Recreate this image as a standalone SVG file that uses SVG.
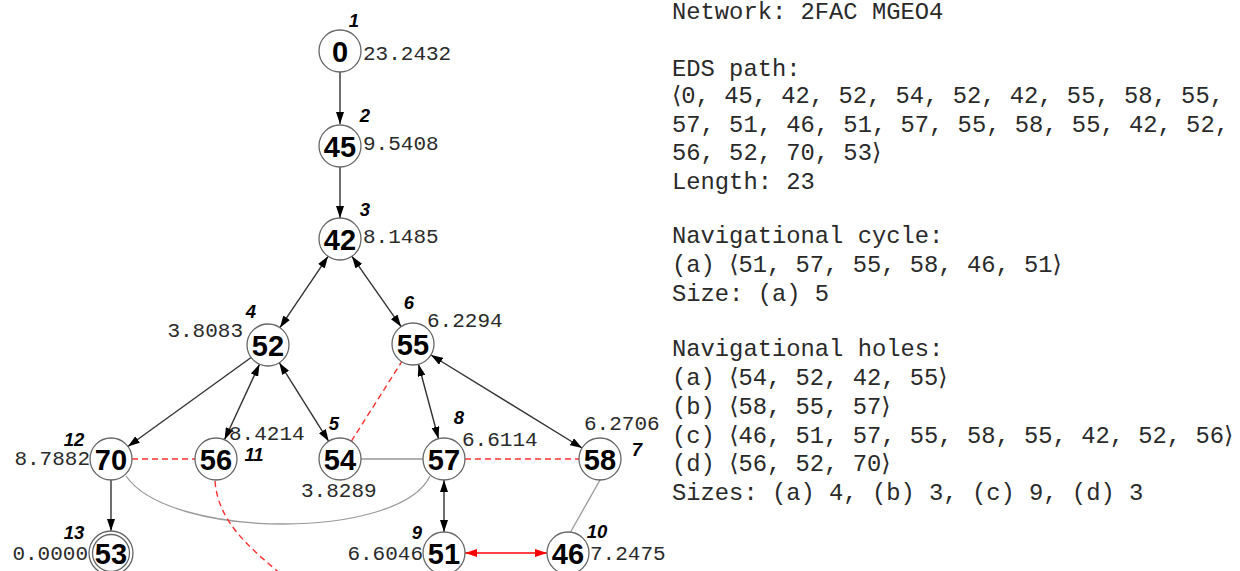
<svg xmlns="http://www.w3.org/2000/svg" width="1240" height="571" viewBox="0 0 1240 571">
<style>
.node circle{fill:#fff;stroke:#666;stroke-width:1.3}
.lbl{font-family:"Liberation Sans",Arial,sans-serif;font-weight:bold;font-size:29px;text-anchor:middle;fill:#000}
.ord{font-family:"Liberation Sans",Arial,sans-serif;font-weight:bold;font-style:italic;font-size:18.5px;text-anchor:middle;fill:#000}
.val{font-family:"Liberation Mono","Courier New",monospace;font-size:21px;fill:#2a2a2a}
.txt{font-family:"Liberation Mono","Courier New",monospace;font-size:23.8px;fill:#2a2a2a}
.br{font-family:"DejaVu Sans",sans-serif}
.arr{stroke:#333;stroke-width:1.4;fill:none}
.gray{stroke:#999;stroke-width:1.3;fill:none}
.red{stroke:#ff3030;stroke-width:1.4;fill:none;stroke-dasharray:6,4}
.redarr{stroke:#ff0000;stroke-width:1.5;fill:none}
</style>
<defs>
<marker id="ah" viewBox="0 0 12 8" refX="12" refY="4" markerWidth="12" markerHeight="8" markerUnits="userSpaceOnUse" orient="auto-start-reverse"><path d="M0,0 L12,4 L0,8 Z" fill="#000"/></marker>
<marker id="ahr" viewBox="0 0 12 8" refX="12" refY="4" markerWidth="12" markerHeight="8" markerUnits="userSpaceOnUse" orient="auto-start-reverse"><path d="M0,0 L12,4 L0,8 Z" fill="#ff0000"/></marker>
</defs>
<g id="connectors">
<line class="arr" x1="340" y1="72" x2="340" y2="124" marker-end="url(#ah)"/>
<line class="arr" x1="340" y1="167" x2="340" y2="218" marker-end="url(#ah)"/>
<line class="arr" x1="328.1" y1="256.3" x2="279.9" y2="327.7" marker-start="url(#ah)" marker-end="url(#ah)"/>
<line class="arr" x1="351.9" y1="256.3" x2="401.1" y2="326.7" marker-start="url(#ah)" marker-end="url(#ah)"/>
<line class="arr" x1="251.1" y1="357.5" x2="127.9" y2="446.5" marker-end="url(#ah)"/>
<line class="arr" x1="259.5" y1="364.2" x2="224.5" y2="439.8" marker-start="url(#ah)" marker-end="url(#ah)"/>
<line class="arr" x1="279.3" y1="362.7" x2="328.7" y2="441.3" marker-start="url(#ah)" marker-end="url(#ah)"/>
<line class="arr" x1="418.5" y1="364.3" x2="438.5" y2="438.7" marker-start="url(#ah)" marker-end="url(#ah)"/>
<line class="arr" x1="430.9" y1="355" x2="582.1" y2="448" marker-start="url(#ah)" marker-end="url(#ah)"/>
<line class="arr" x1="111" y1="480" x2="111" y2="531" marker-end="url(#ah)"/>
<line class="arr" x1="444" y1="480" x2="444" y2="532" marker-start="url(#ah)" marker-end="url(#ah)"/>
<line class="redarr" x1="465" y1="553" x2="547" y2="553" marker-start="url(#ahr)" marker-end="url(#ahr)"/>
<line class="red" x1="132" y1="459" x2="195" y2="459"/>
<line class="red" x1="351.3" y1="441.3" x2="401.7" y2="361.7"/>
<line class="red" x1="465" y1="459" x2="579" y2="459"/>
<line class="gray" x1="361" y1="459" x2="423" y2="459"/>
<line class="gray" x1="600" y1="480" x2="570" y2="533"/>
<path class="gray" d="M126,476 C170,540 400,540 430,476"/>
<path class="red" d="M215,481 C218,522 250,548 282,575"/>
</g>
<g id="n0" class="node"><circle cx="340" cy="51" r="21"/><text class="lbl" x="340" y="62">0</text><text class="ord" x="354" y="27">1</text><text class="val" x="363" y="60">23.2432</text></g>
<g id="n45" class="node"><circle cx="340" cy="146" r="21"/><text class="lbl" x="340" y="157">45</text><text class="ord" x="365" y="122">2</text><text class="val" x="363" y="150">9.5408</text></g>
<g id="n42" class="node"><circle cx="340" cy="239" r="21"/><text class="lbl" x="340" y="250">42</text><text class="ord" x="365" y="216">3</text><text class="val" x="363" y="243">8.1485</text></g>
<g id="n52" class="node"><circle cx="268" cy="345" r="21"/><text class="lbl" x="268" y="356">52</text><text class="ord" x="251" y="318">4</text><text class="val" x="243" y="337" text-anchor="end">3.8083</text></g>
<g id="n55" class="node"><circle cx="413" cy="344" r="21"/><text class="lbl" x="413" y="355">55</text><text class="ord" x="409" y="309">6</text><text class="val" x="427" y="327">6.2294</text></g>
<g id="n70" class="node"><circle cx="111" cy="459" r="21"/><text class="lbl" x="111" y="470">70</text><text class="ord" x="74" y="446">12</text><text class="val" x="90" y="465" text-anchor="end">8.7882</text></g>
<g id="n56" class="node"><circle cx="216" cy="459" r="21"/><text class="lbl" x="216" y="470">56</text><text class="ord" x="254" y="461">11</text><text class="val" x="229" y="440">8.4214</text></g>
<g id="n54" class="node"><circle cx="340" cy="459" r="21"/><text class="lbl" x="340" y="470">54</text><text class="ord" x="334" y="430">5</text><text class="val" x="301" y="497">3.8289</text></g>
<g id="n57" class="node"><circle cx="444" cy="459" r="21"/><text class="lbl" x="444" y="470">57</text><text class="ord" x="459" y="424">8</text><text class="val" x="462" y="446">6.6114</text></g>
<g id="n58" class="node"><circle cx="600" cy="459" r="21"/><text class="lbl" x="600" y="470">58</text><text class="ord" x="637" y="456">7</text><text class="val" x="584" y="430">6.2706</text></g>
<g id="n53" class="node"><circle cx="111" cy="553" r="22"/><circle cx="111" cy="553" r="18.5"/><text class="lbl" x="111" y="564">53</text><text class="ord" x="74" y="539">13</text><text class="val" x="88" y="560" text-anchor="end">0.0000</text></g>
<g id="n51" class="node"><circle cx="444" cy="553" r="21"/><text class="lbl" x="444" y="564">51</text><text class="ord" x="417" y="539">9</text><text class="val" x="423" y="560" text-anchor="end">6.6046</text></g>
<g id="n46" class="node"><circle cx="568" cy="553" r="21"/><text class="lbl" x="568" y="564">46</text><text class="ord" x="597" y="538">10</text><text class="val" x="590" y="560">7.2475</text></g>
<g id="info">
<text class="txt" x="672" y="19">Network: 2FAC MGEO4</text>
<text class="txt" x="672" y="76">EDS path:</text>
<text class="txt" x="672" y="103"><tspan class="br">⟨</tspan>0, 45, 42, 52, 54, 52, 42, 55, 58, 55,</text>
<text class="txt" x="672" y="132">57, 51, 46, 51, 57, 55, 58, 55, 42, 52,</text>
<text class="txt" x="672" y="160">56, 52, 70, 53<tspan class="br">⟩</tspan></text>
<text class="txt" x="672" y="189">Length: 23</text>
<text class="txt" x="672" y="243">Navigational cycle:</text>
<text class="txt" x="672" y="272">(a) <tspan class="br">⟨</tspan>51, 57, 55, 58, 46, 51<tspan class="br">⟩</tspan></text>
<text class="txt" x="672" y="301">Size: (a) 5</text>
<text class="txt" x="672" y="356">Navigational holes:</text>
<text class="txt" x="672" y="385">(a) <tspan class="br">⟨</tspan>54, 52, 42, 55<tspan class="br">⟩</tspan></text>
<text class="txt" x="672" y="414">(b) <tspan class="br">⟨</tspan>58, 55, 57<tspan class="br">⟩</tspan></text>
<text class="txt" x="672" y="443">(c) <tspan class="br">⟨</tspan>46, 51, 57, 55, 58, 55, 42, 52, 56<tspan class="br">⟩</tspan></text>
<text class="txt" x="672" y="471">(d) <tspan class="br">⟨</tspan>56, 52, 70<tspan class="br">⟩</tspan></text>
<text class="txt" x="672" y="500">Sizes: (a) 4, (b) 3, (c) 9, (d) 3</text>
</g>
</svg>
